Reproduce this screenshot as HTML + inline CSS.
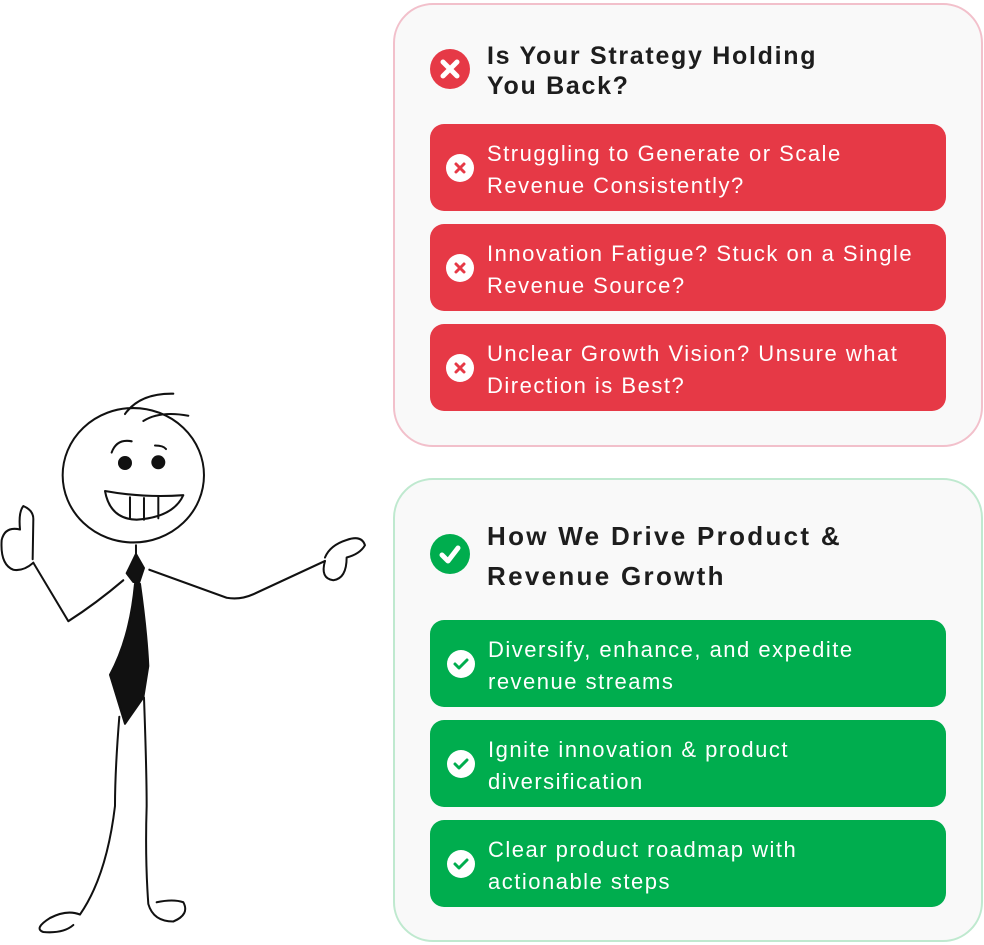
<!DOCTYPE html>
<html><head><meta charset="utf-8"><style>
*{margin:0;padding:0;box-sizing:border-box}
body{width:984px;height:945px;background:#fff;position:relative;overflow:hidden;font-family:"Liberation Sans",sans-serif}
.card{position:absolute;left:393px;width:590px;border-radius:40px;background:#f9f9f9}
.t{position:absolute;left:487px;font-weight:bold;font-size:25px;color:#1d1d1d;line-height:30px;letter-spacing:1.7px}
.row{position:absolute;left:430px;width:516px;height:87px;border-radius:14px}
.row .tx{position:absolute;left:57px;top:14px;color:#fff;font-size:22px;line-height:32px;letter-spacing:1.5px;white-space:nowrap}
.row .ic{position:absolute;left:16px;top:30px;width:28px;height:28px;border-radius:50%;background:#fff}
.big{position:absolute;width:40px;height:40px;border-radius:50%}
</style></head><body>
<div class="card" style="top:3px;height:444px;border:2px solid #f2c0cb"></div>
<div class="card" style="top:478px;height:464px;border:2px solid #bfe9cf"></div>

<div class="big" style="left:430px;top:49px;background:#e63946"><svg width="40" height="40"><path d="M13 13L27 27M27 13L13 27" stroke="#fff" stroke-width="5" stroke-linecap="round"/></svg></div>
<div class="t" style="top:41px">Is Your Strategy Holding<br>You Back?</div>

<div class="big" style="left:430px;top:534px;background:#00ad4e"><svg width="40" height="40"><path d="M12 21L18 27L28 14" stroke="#fff" stroke-width="5" fill="none" stroke-linecap="round" stroke-linejoin="round"/></svg></div>
<div class="t" style="top:516px;line-height:40px;font-size:26px;letter-spacing:2.3px">How We Drive Product &amp;<br>Revenue Growth</div>

<div class="row" style="top:124px;background:#e63946"><div class="ic"><svg width="28" height="28"><path d="M10 10L18 18M18 10L10 18" stroke="#e63946" stroke-width="3" stroke-linecap="round"/></svg></div><div class="tx">Struggling to Generate or Scale<br>Revenue Consistently?</div></div>
<div class="row" style="top:224px;background:#e63946"><div class="ic"><svg width="28" height="28"><path d="M10 10L18 18M18 10L10 18" stroke="#e63946" stroke-width="3" stroke-linecap="round"/></svg></div><div class="tx">Innovation Fatigue? Stuck on a Single<br>Revenue Source?</div></div>
<div class="row" style="top:324px;background:#e63946"><div class="ic"><svg width="28" height="28"><path d="M10 10L18 18M18 10L10 18" stroke="#e63946" stroke-width="3" stroke-linecap="round"/></svg></div><div class="tx">Unclear Growth Vision? Unsure what<br>Direction is Best?</div></div>

<div class="row" style="top:620px;background:#00ad4e"><div class="ic" style="left:17px"><svg width="28" height="28"><path d="M8 14L12 18L20 10" stroke="#00ad4e" stroke-width="3" fill="none" stroke-linecap="round" stroke-linejoin="round"/></svg></div><div class="tx" style="left:58px">Diversify, enhance, and expedite<br>revenue streams</div></div>
<div class="row" style="top:720px;background:#00ad4e"><div class="ic" style="left:17px"><svg width="28" height="28"><path d="M8 14L12 18L20 10" stroke="#00ad4e" stroke-width="3" fill="none" stroke-linecap="round" stroke-linejoin="round"/></svg></div><div class="tx" style="left:58px">Ignite innovation &amp; product<br>diversification</div></div>
<div class="row" style="top:820px;background:#00ad4e"><div class="ic" style="left:17px"><svg width="28" height="28"><path d="M8 14L12 18L20 10" stroke="#00ad4e" stroke-width="3" fill="none" stroke-linecap="round" stroke-linejoin="round"/></svg></div><div class="tx" style="left:58px">Clear product roadmap with<br>actionable steps</div></div>

<svg style="position:absolute;left:0;top:0" width="390" height="945">
<g transform="translate(0,386) scale(0.3333,0.35)" fill="none" stroke="#111" stroke-width="6" stroke-linecap="round" stroke-linejoin="round">
<ellipse cx="400" cy="255" rx="212" ry="192"/>
<path d="M375,80 Q420,20 520,22 M430,100 Q480,70 565,85"/>
<path d="M335,190 Q350,150 395,158 M465,170 Q490,170 498,180"/>
<ellipse cx="375" cy="220" rx="18" ry="17" fill="#111"/><ellipse cx="475" cy="218" rx="18" ry="17" fill="#111"/>
<path d="M315,300 Q330,380 410,382 Q520,375 550,312 Q430,320 315,300 Z"/>
<path d="M390,318 L390,380 M432,320 L432,382 M475,318 L475,378"/>
<path d="M408,455 L408,480"/>
<path d="M408,480 L432,520 L418,560 L400,560 L380,535 Z" fill="#111"/>
<path d="M405,565 L420,565 Q440,700 445,800 L430,890 L375,965 L330,825 Q390,720 405,565Z" fill="#111"/>
<path d="M370,555 Q290,620 205,672 L100,505"/>
<path d="M100,505 Q70,530 40,525 Q0,510 5,440 Q15,400 60,410 Q55,360 70,343 Q100,355 100,380 L98,495"/>
<path d="M448,525 L680,605 Q720,612 760,595 L975,500"/>
<path d="M975,500 Q960,550 1000,555 Q1040,550 1040,490 Q1080,480 1095,455 Q1085,425 1040,440 Q990,455 975,490"/>
<path d="M358,945 Q345,1100 345,1200 Q320,1400 240,1510 Q200,1495 150,1520 Q100,1550 130,1560 Q190,1565 220,1540"/>
<path d="M432,890 Q440,1100 440,1200 Q435,1350 445,1480 Q460,1530 520,1530 Q570,1510 550,1475 Q520,1465 470,1475"/>
</g></svg>
</body></html>
